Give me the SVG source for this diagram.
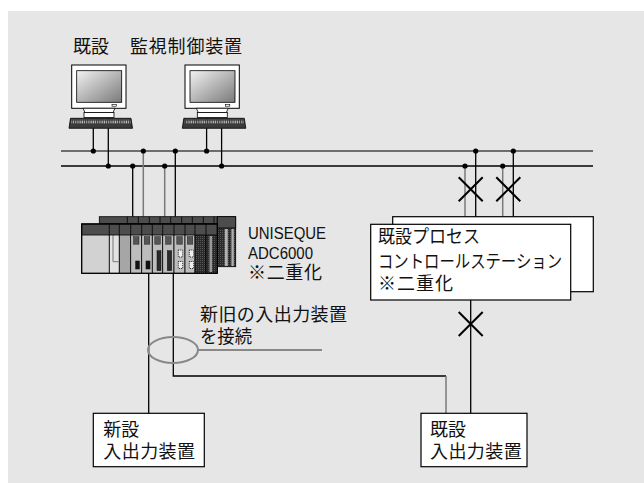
<svg xmlns="http://www.w3.org/2000/svg" width="644" height="483" viewBox="0 0 644 483">
  <style>
    .txt { font-family: "Liberation Sans", "Noto Sans CJK JP", sans-serif; fill: #111; }
    .jp { font-size: 18px; }
    .box { fill: #fff; stroke: #000; stroke-width: 1.2; }
    .wb { fill: none; stroke: #000; stroke-width: 1.3; }
    .wg { fill: none; stroke: #7a7a7a; stroke-width: 1.5; }
    .dot { fill: #000; }
    .cross { stroke: #000; stroke-width: 2; fill: none; }
    .band { fill: #4d4d4d; stroke: #000; stroke-width: 0.8; }
    .mod { stroke: #000; stroke-width: 0.8; }
    .led { fill: #555; stroke: #222; stroke-width: 0.5; }
  </style>
  <defs>
    <linearGradient id="screenGrad" x1="0" y1="0" x2="1" y2="1">
      <stop offset="0" stop-color="#f2f2f2"/>
      <stop offset="1" stop-color="#7a7a7a"/>
    </linearGradient>
    <pattern id="keys" width="2.2" height="4" patternUnits="userSpaceOnUse">
      <rect width="2.2" height="4" fill="#3a3a3a"/>
      <rect x="0.4" y="0.6" width="1" height="2.8" fill="#c8c8c8"/>
    </pattern>
    <pattern id="grain" width="2" height="2" patternUnits="userSpaceOnUse">
      <rect width="2" height="2" fill="#2a2a2a"/>
      <rect width="1" height="1" fill="#555"/>
    </pattern>
    <!-- workstation: monitor, stand and keyboard -->
    <g id="pc">
      <rect x="71.7" y="65" width="54.3" height="43.3" fill="#fff" stroke="#000" stroke-width="1"/>
      <rect x="76.7" y="70.7" width="45" height="31.6" fill="url(#screenGrad)" stroke="#000" stroke-width="0.8"/>
      <rect x="112" y="104.6" width="4.5" height="1.6" fill="#fff" stroke="#000" stroke-width="0.6"/>
      <polygon points="83,108.3 115,108.3 113,112.5 85,112.5" fill="#fff" stroke="#000" stroke-width="0.8"/>
      <rect x="84" y="112.5" width="30" height="5" fill="#fff" stroke="#000" stroke-width="0.8"/>
      <polygon points="70.5,118.3 131,118.3 132.5,128.3 69,128.3" fill="#3a3a3a" stroke="#000" stroke-width="0.8"/>
      <rect x="71.5" y="119.5" width="59" height="4.5" fill="url(#keys)"/>
    </g>
  </defs>

  <!-- backdrop -->
  <rect x="8" y="11" width="636" height="472" fill="#e6e6e6"/>

  <!-- workstations -->
  <g id="hmi-1">
    <use href="#pc"/>
  </g>
  <g id="hmi-2">
    <use href="#pc" transform="translate(113.3,0)"/>
  </g>
  <g id="hmi-label">
    <text class="txt" x="73" y="53" font-size="18">既設</text>
    <text class="txt" x="130" y="53" font-size="18" textLength="112" lengthAdjust="spacing">監視制御装置</text>
  </g>

  <!-- connectors -->
  <g id="connectors">
    <!-- duplexed control bus -->
    <line x1="61" y1="151" x2="593" y2="151" stroke="#444" stroke-width="1.5"/>
    <line x1="61" y1="166" x2="593" y2="166" stroke="#000" stroke-width="1.5"/>
    <!-- workstation drops -->
    <line class="wb" x1="93.3" y1="128.3" x2="93.3" y2="151"/>
    <line class="wb" x1="108.3" y1="128.3" x2="108.3" y2="166"/>
    <line class="wb" x1="206.6" y1="128.3" x2="206.6" y2="151"/>
    <line class="wb" x1="221.6" y1="128.3" x2="221.6" y2="166"/>
    <!-- controller drops -->
    <line class="wb" x1="132.7" y1="166" x2="132.7" y2="216.7"/>
    <line class="wg" x1="143.3" y1="151" x2="143.3" y2="216.7"/>
    <line class="wg" x1="164.7" y1="166" x2="164.7" y2="216.7"/>
    <line class="wb" x1="175.3" y1="151" x2="175.3" y2="216.7"/>
    <!-- station drops -->
    <line class="wg" x1="465" y1="166" x2="465" y2="224.3"/>
    <line class="wb" x1="475.7" y1="151" x2="475.7" y2="224.3"/>
    <line class="wg" x1="502.7" y1="166" x2="502.7" y2="216.7"/>
    <line class="wb" x1="513.3" y1="151" x2="513.3" y2="216.7"/>
    <!-- I/O links -->
    <line class="wb" x1="148.7" y1="273.3" x2="148.7" y2="413.3"/>
    <polyline class="wb" points="173.3,273.3 173.3,376 446,376"/>
    <line class="wg" x1="446" y1="376" x2="446" y2="413.3"/>
    <line class="wb" x1="470.7" y1="300" x2="470.7" y2="413.3"/>
    <!-- junction dots -->
    <circle class="dot" cx="93.3" cy="151" r="2.6"/>
    <circle class="dot" cx="143.3" cy="151" r="2.6"/>
    <circle class="dot" cx="175.3" cy="151" r="2.6"/>
    <circle class="dot" cx="206.6" cy="151" r="2.6"/>
    <circle class="dot" cx="108.3" cy="166" r="2.6"/>
    <circle class="dot" cx="132.7" cy="166" r="2.6"/>
    <circle class="dot" cx="164.7" cy="166" r="2.6"/>
    <circle class="dot" cx="221.6" cy="166" r="2.6"/>
    <circle class="dot" cx="475.7" cy="151" r="2.6"/>
    <circle class="dot" cx="513.3" cy="151" r="2.6"/>
    <circle class="dot" cx="465" cy="166" r="2.6"/>
    <circle class="dot" cx="502.7" cy="166" r="2.6"/>
    <!-- disconnection marks -->
    <path class="cross" d="M458.7,177.3 L482.7,201.3 M482.7,177.3 L458.7,201.3"/>
    <path class="cross" d="M496.3,177.3 L520.3,201.3 M520.3,177.3 L496.3,201.3"/>
    <path class="cross" d="M458.7,312 L482.7,336 M482.7,312 L458.7,336"/>
    <!-- bundle ring with leader -->
    <ellipse cx="173" cy="350" rx="25" ry="13" fill="none" stroke="#888" stroke-width="2"/>
    <line x1="198" y1="350" x2="322" y2="350" stroke="#888" stroke-width="2"/>
  </g>

  <!-- ADC6000 controller rack -->
  <g id="adc6000">
    <!-- rear rack -->
    <rect class="band" x="99.3" y="216.7" width="118" height="7.3"/>
    <path d="M127.3,216.7V224M138.3,216.7V224M149.3,216.7V224M160,216.7V224M170.7,216.7V224M181.7,216.7V224M192.3,216.7V224M203.3,216.7V224M214,216.7V224" stroke="#000" stroke-width="0.8"/>
    <rect x="217.3" y="216.7" width="18.4" height="50" fill="url(#grain)" stroke="#000" stroke-width="0.8"/>
    <rect class="band" x="217.3" y="216.7" width="18.4" height="11.3"/>
    <rect x="224.8" y="229" width="3" height="37" fill="#b0b0b0"/>
    <rect x="231.4" y="229" width="2.4" height="37" fill="#b0b0b0"/>
    <!-- front rack modules -->
    <rect class="mod" x="81.7" y="224" width="27.6" height="49.3" fill="#d2d2d2"/>
    <rect class="mod" x="109.3" y="224" width="10" height="49.3" fill="#e2e2e2"/>
    <polyline points="113,235 113,261.7 118.5,261.7" fill="none" stroke="#777" stroke-width="1"/>
    <rect class="mod" x="119.3" y="224" width="11.4" height="49.3" fill="#a6a6a6"/>
    <rect class="mod" x="130.7" y="224" width="11" height="49.3" fill="#bdbdbd"/>
    <rect class="mod" x="141.7" y="224" width="10.6" height="49.3" fill="#bdbdbd"/>
    <rect class="mod" x="152.3" y="224" width="10.4" height="49.3" fill="#bdbdbd"/>
    <rect class="mod" x="162.7" y="224" width="11.3" height="49.3" fill="#bdbdbd"/>
    <rect class="mod" x="174" y="224" width="11" height="49.3" fill="#bdbdbd"/>
    <rect class="mod" x="185" y="224" width="10" height="49.3" fill="#bdbdbd"/>
    <rect class="mod" x="195" y="224" width="11" height="49.3" fill="url(#grain)"/>
    <rect class="mod" x="206" y="224" width="11.3" height="49.3" fill="url(#grain)"/>
    <rect x="209.5" y="236" width="2.6" height="36" fill="#9a9a9a"/>
    <!-- status lamps -->
    <rect class="led" x="133.5" y="236.7" width="5.5" height="7.5"/>
    <rect class="led" x="144.3" y="236.7" width="5.5" height="7.5"/>
    <rect class="led" x="154.8" y="236.7" width="5.5" height="7.5"/>
    <rect class="led" x="165.6" y="236.7" width="5.5" height="7.5"/>
    <rect class="led" x="176.8" y="236.7" width="5.5" height="7.5"/>
    <rect class="led" x="187.3" y="236.7" width="5.5" height="7.5"/>
    <!-- connectors and terminal blocks -->
    <rect x="135.3" y="260.7" width="4.4" height="8.6" fill="#111"/>
    <rect x="145.7" y="260.7" width="4.6" height="8.6" fill="#111"/>
    <rect x="157" y="250.7" width="4" height="20" fill="#2a2a2a" stroke="#111" stroke-width="0.5"/>
    <rect x="167.3" y="250.7" width="4.4" height="20" fill="#2a2a2a" stroke="#111" stroke-width="0.5"/>
    <rect x="178.3" y="250" width="4.4" height="7" fill="#eee" stroke="#222" stroke-width="1" stroke-dasharray="1 1"/>
    <rect x="178.3" y="261.5" width="4.4" height="7" fill="#eee" stroke="#222" stroke-width="1" stroke-dasharray="1 1"/>
    <rect x="189.3" y="250" width="4.4" height="7" fill="#eee" stroke="#222" stroke-width="1" stroke-dasharray="1 1"/>
    <rect x="189.3" y="261.5" width="4.4" height="7" fill="#eee" stroke="#222" stroke-width="1" stroke-dasharray="1 1"/>
    <!-- front rack top band and outline -->
    <rect class="band" x="81.7" y="224" width="135.6" height="11"/>
    <path d="M109.3,224V235M119.3,224V235M130.7,224V235M141.7,224V235M152.3,224V235M162.7,224V235M174,224V235M185,224V235M195,224V235M206,224V235" stroke="#000" stroke-width="0.8"/>
    <rect x="81.7" y="224" width="135.6" height="49.3" fill="none" stroke="#000" stroke-width="1.2"/>
  </g>
  <g id="adc6000-label">
    <text class="txt" x="248" y="239" font-size="16" textLength="78" lengthAdjust="spacingAndGlyphs">UNISEQUE</text>
    <text class="txt" x="248" y="259" font-size="16" textLength="65" lengthAdjust="spacingAndGlyphs">ADC6000</text>
    <text class="txt jp" x="248" y="279" textLength="74" lengthAdjust="spacing">※二重化</text>
  </g>

  <!-- existing process control station (duplexed) -->
  <g id="station">
    <rect class="box" x="392.7" y="216.7" width="200.6" height="75"/>
    <rect class="box" x="370.7" y="224.3" width="200" height="75.7"/>
    <text class="txt jp" x="378" y="243" textLength="102" lengthAdjust="spacingAndGlyphs">既設プロセス</text>
    <text class="txt jp" x="378" y="268" font-size="17" textLength="184" lengthAdjust="spacingAndGlyphs">コントロールステーション</text>
    <text class="txt jp" x="378" y="290" textLength="75" lengthAdjust="spacing">※二重化</text>
  </g>

  <!-- bundle annotation -->
  <g id="bundle-note">
    <text class="txt jp" x="200" y="321" textLength="147" lengthAdjust="spacing">新旧の入出力装置</text>
    <text class="txt jp" x="200" y="343" textLength="52" lengthAdjust="spacingAndGlyphs">を接続</text>
  </g>

  <!-- new I/O unit -->
  <g id="io-new">
    <rect class="box" x="93.3" y="413.3" width="111" height="53.4"/>
    <text class="txt jp" x="103.3" y="436">新設</text>
    <text class="txt jp" x="103.3" y="458.3" textLength="91.7" lengthAdjust="spacing">入出力装置</text>
  </g>

  <!-- existing I/O unit -->
  <g id="io-existing">
    <rect class="box" x="421" y="413.3" width="106" height="53.4"/>
    <text class="txt jp" x="430" y="436">既設</text>
    <text class="txt jp" x="430" y="458.3" textLength="91.7" lengthAdjust="spacing">入出力装置</text>
  </g>
</svg>
